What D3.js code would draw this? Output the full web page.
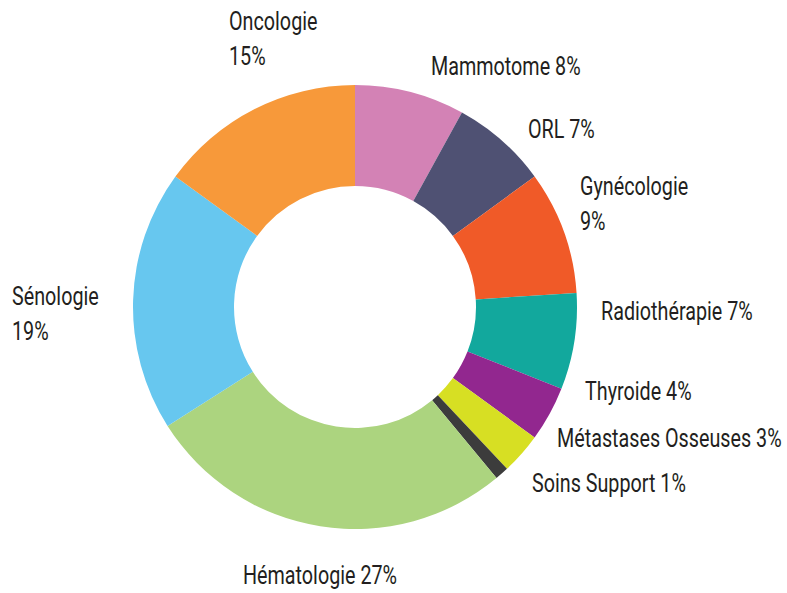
<!DOCTYPE html>
<html>
<head>
<meta charset="utf-8">
<script src="https://cdn.jsdelivr.net/npm/d3@7"></script>
<style>
  body { margin: 0; background: #fff; }
  svg text { font-family: Roboto, "DejaVu Sans Condensed", sans-serif; font-size: 25px; fill: #231f20; }
</style>
</head>
<body>
<svg id="chart" width="787" height="593"></svg>
<script>
// slices, clockwise from 12 o'clock
var categories = ["Mammotome", "ORL", "Gynécologie", "Radiothérapie", "Thyroide",
                  "Métastases Osseuses", "Soins Support", "Hématologie", "Sénologie", "Oncologie"];
var values = [8, 7, 9, 7, 4, 3, 1, 27, 19, 15];
var colors = ["#d382b5", "#4f5173", "#f05a28", "#12a89d", "#92278f",
              "#d7df23", "#3c3c3c", "#acd47f", "#67c7ef", "#f7993a"];

// label placement (x, baseline y, two lines or not)
var labelLayout = {
  "Mammotome":           { x: 431, y: 75,  split: false },
  "ORL":                 { x: 528, y: 138, split: false },
  "Gynécologie":         { x: 580, y: 195, split: true },
  "Radiothérapie":       { x: 601, y: 320, split: false },
  "Thyroide":            { x: 585, y: 400, split: false },
  "Métastases Osseuses": { x: 557, y: 447, split: false },
  "Soins Support":       { x: 532, y: 492, split: false },
  "Hématologie":         { x: 243, y: 584, split: false },
  "Sénologie":           { x: 12,  y: 305, split: true },
  "Oncologie":           { x: 229, y: 30,  split: true }
};
var squeeze = 0.79; // condensed look

var cx = 355, cy = 307, outerR = 222, innerR = 121;
var svg = d3.select("#chart");

var data = categories.map(function(c, i) { return { name: c, value: values[i], color: colors[i] }; });

var pie = d3.pie().sort(null).value(function(d) { return d.value; });
var arc = d3.arc().innerRadius(innerR).outerRadius(outerR);

var g = svg.append("g").attr("transform", "translate(" + cx + "," + cy + ")");
g.selectAll("path")
  .data(pie(data))
  .enter().append("path")
    .attr("d", arc)
    .attr("fill", function(d) { return d.data.color; });

var labels = svg.append("g");
data.forEach(function(d) {
  var l = labelLayout[d.name];
  var t = labels.append("text")
    .attr("transform", "translate(" + l.x + "," + l.y + ") scale(" + squeeze + ",1)");
  if (l.split) {
    t.append("tspan").attr("x", 0).text(d.name);
    t.append("tspan").attr("x", 0).attr("dy", 35).text(d.value + "%");
  } else {
    t.text(d.name + " " + d.value + "%");
  }
});
</script>
</body>
</html>
